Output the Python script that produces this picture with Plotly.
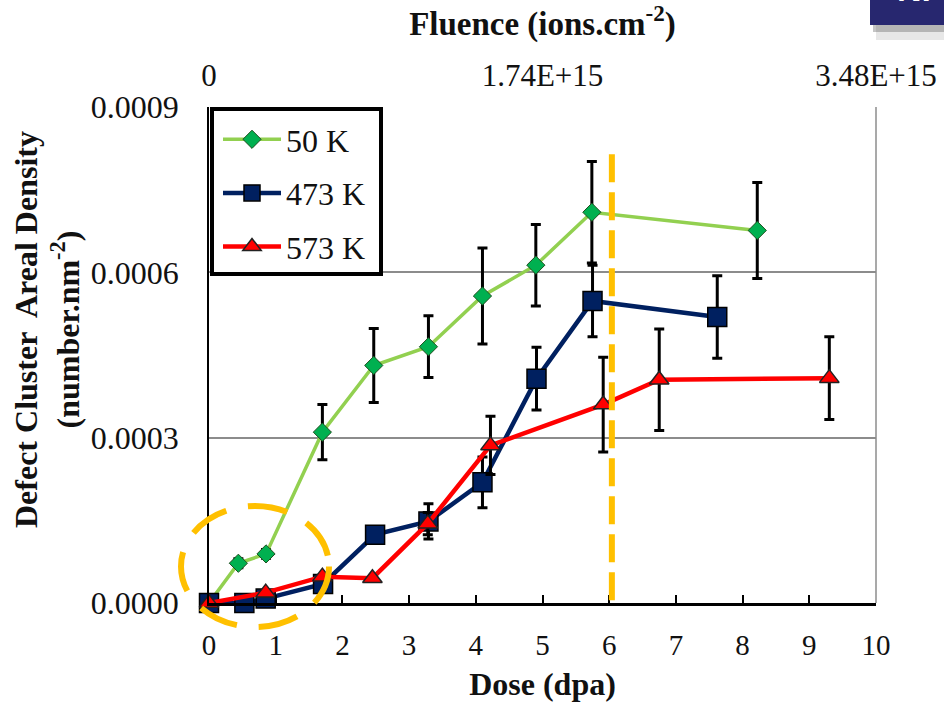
import plotly.graph_objects as go

# ---------------- data ----------------
series_names = ["50 K", "473 K", "573 K"]

dose_50 = [0, 0.44, 0.855, 1.70, 2.47, 3.29, 4.10, 4.90, 5.74, 8.22]
dens_50 = [0, 0.0000721, 0.0000891, 0.000310, 0.000431, 0.000465, 0.000557, 0.000613, 0.000709, 0.000676]
err_50 = [0, 0.000008, 0.000008, 0.000050, 0.000067, 0.000056, 0.000087, 0.000074, 0.000092, 0.000087]

dose_473 = [0, 0.53, 0.85, 1.71, 2.49, 3.29, 4.10, 4.91, 5.75, 7.62]
dens_473 = [0, 0.0, 0.000008, 0.0000345, 0.000124, 0.000148, 0.000219, 0.000407, 0.000548, 0.000519]
err_473 = [0, 0, 0, 0, 0, 0.000032, 0.000046, 0.000057, 0.000065, 0.000075]

dose_573 = [0, 0.85, 1.70, 2.45, 3.28, 4.22, 5.91, 6.75, 9.30]
dens_573 = [0, 0.0000188, 0.0000478, 0.000045, 0.000144, 0.000286, 0.000360, 0.000405, 0.000408]
err_573 = [0, 0, 0, 0, 0.000020, 0.000053, 0.000086, 0.000092, 0.000075]

dose_ticks = list(range(0, 11))
density_ticks = [0, 0.0003, 0.0006, 0.0009]
fluence_ticks = [0, 1.74e15, 3.48e15]
fluence_labels = ["0", "1.74E+15", "3.48E+15"]
threshold_dose = 6.04

# ---------------- layout geometry ----------------
W, H = 944, 705
L, R, T, B = 209, 876, 107, 603
SERIF = "Liberation Serif"
TXT = "#111111"


def px(xp):
    return (xp - L) / (R - L)


def py(yp):
    return (B - yp) / (B - T)


fig = go.Figure()

fig.add_trace(go.Scatter(
    x=dose_50, y=dens_50, name=series_names[0], mode="lines+markers",
    legendgroup="a", cliponaxis=False,
    line=dict(color="#92D050", width=3.5),
    marker=dict(symbol="diamond", size=14, color="#00B050",
                line=dict(color="#1e4f1e", width=1)),
    error_y=dict(type="data", array=err_50, visible=True, color="black",
                 thickness=3, width=5),
))
fig.add_trace(go.Scatter(
    x=dose_473, y=dens_473, name=series_names[1], mode="lines+markers",
    legendgroup="b", cliponaxis=False,
    line=dict(color="#002060", width=4.5),
    marker=dict(symbol="square", size=19, color="#002060",
                line=dict(color="black", width=1.5)),
    error_y=dict(type="data", array=err_473, visible=True, color="black",
                 thickness=3, width=5),
))
fig.add_trace(go.Scatter(
    x=dose_573, y=dens_573, name=series_names[2], mode="lines+markers",
    legendgroup="c", cliponaxis=False,
    line=dict(color="#FF0000", width=4.5),
    marker=dict(symbol="triangle-up", size=17, color="#FF0000",
                line=dict(color="#222222", width=1.5)),
    error_y=dict(type="data", array=err_573, visible=True, color="black",
                 thickness=3, width=5),
))
# invisible trace carrying the fluence (top) axis
fig.add_trace(go.Scatter(
    x=fluence_ticks, y=[0, 0, 0], xaxis="x2", mode="markers",
    marker=dict(opacity=0), showlegend=False, hoverinfo="skip",
))

shapes = [
    # right frame border
    dict(type="line", xref="paper", yref="paper", x0=1, x1=1, y0=0, y1=1,
         line=dict(color="#8c8c8c", width=1.5), layer="below"),
    # vertical dashed threshold line
    dict(type="line", xref="x", yref="y", x0=threshold_dose, x1=threshold_dose,
         y0=0.000005, y1=0.00082,
         line=dict(color="#FFC000", width=6, dash="28px,10px")),
    # dashed ellipse around low-dose points
    dict(type="circle", xref="paper", yref="paper",
         x0=px(181), x1=px(329), y0=py(627), y1=py(506),
         line=dict(color="#FFC000", width=6, dash="40px,22px")),
    # legend frame (legend itself drawn transparent on top)
    dict(type="rect", xref="paper", yref="paper",
         x0=px(212), x1=px(381), y0=py(274), y1=py(109),
         fillcolor="white", line=dict(color="black", width=4), layer="above"),
    # slide fragment in the top-right corner (shadow + navy box)
    dict(type="rect", xref="paper", yref="paper",
         x0=px(876), x1=px(950), y0=py(40), y1=py(25),
         fillcolor="rgba(120,120,120,0.18)", line=dict(width=0)),
    dict(type="rect", xref="paper", yref="paper",
         x0=px(873), x1=px(950), y0=py(32), y1=py(25),
         fillcolor="rgba(90,90,90,0.35)", line=dict(width=0)),
    dict(type="rect", xref="paper", yref="paper",
         x0=px(870), x1=px(950), y0=py(25), y1=py(-5),
         fillcolor="#27276F", line=dict(width=0)),
]

annotations = [
    dict(text="<b>Ni</b>", xref="paper", yref="paper", x=px(914), y=py(10),
         xanchor="center", yanchor="bottom", showarrow=False,
         font=dict(family="Liberation Sans", size=34, color="white")),
    # y-axis title (two lines, rotated)
    dict(text="<b>Defect Cluster  Areal Density<br>(number.nm<sup>-2</sup>)</b>",
         xref="paper", yref="paper", x=px(47), y=py(330),
         xanchor="center", yanchor="middle", textangle=-90, showarrow=False,
         font=dict(family=SERIF, size=32, color=TXT)),
]

fig.update_layout(
    width=W, height=H,
    margin=dict(l=L, r=W - R, t=T, b=H - B, pad=0, autoexpand=False),
    paper_bgcolor="white", plot_bgcolor="white",
    font=dict(family=SERIF, color=TXT, size=28),
    showlegend=True,
    legend=dict(
        x=px(218), y=py(112), xanchor="left", yanchor="top",
        bgcolor="rgba(0,0,0,0)", borderwidth=0,
        font=dict(family=SERIF, size=32, color=TXT),
        traceorder="grouped", tracegroupgap=9, itemwidth=58,
    ),
    xaxis=dict(
        range=[0, 10], tickvals=dose_ticks, ticks="inside", ticklen=8,
        tickwidth=2, tickcolor="black", showline=True, linecolor="black",
        linewidth=2.5, showgrid=False, zeroline=False, automargin=False,
        tickfont=dict(family=SERIF, size=29, color=TXT),
        ticklabelstandoff=14,
        title=dict(text="<b>Dose (dpa)</b>", standoff=14,
                   font=dict(family=SERIF, size=32, color=TXT)),
    ),
    xaxis2=dict(
        range=[0, 3.48e15], overlaying="x", side="top", tickvals=fluence_ticks,
        ticktext=fluence_labels, ticks="", showline=False, showgrid=False,
        zeroline=False, automargin=False,
        tickfont=dict(family=SERIF, size=31, color=TXT),
        ticklabelstandoff=14,
        title=dict(text="<b>Fluence (ions.cm<sup>-2</sup>)</b>", standoff=12,
                   font=dict(family=SERIF, size=33, color=TXT)),
    ),
    yaxis=dict(
        range=[0, 0.0009], tickvals=density_ticks, tickformat=".4f",
        showline=True, linecolor="black", linewidth=1.5, ticks="",
        showgrid=True, gridcolor="#8c8c8c", gridwidth=1.5, zeroline=False,
        automargin=False,
        tickfont=dict(family=SERIF, size=32, color=TXT),
        ticklabelstandoff=22,
    ),
    shapes=shapes,
    annotations=annotations,
)

fig.write_html("out.html")
